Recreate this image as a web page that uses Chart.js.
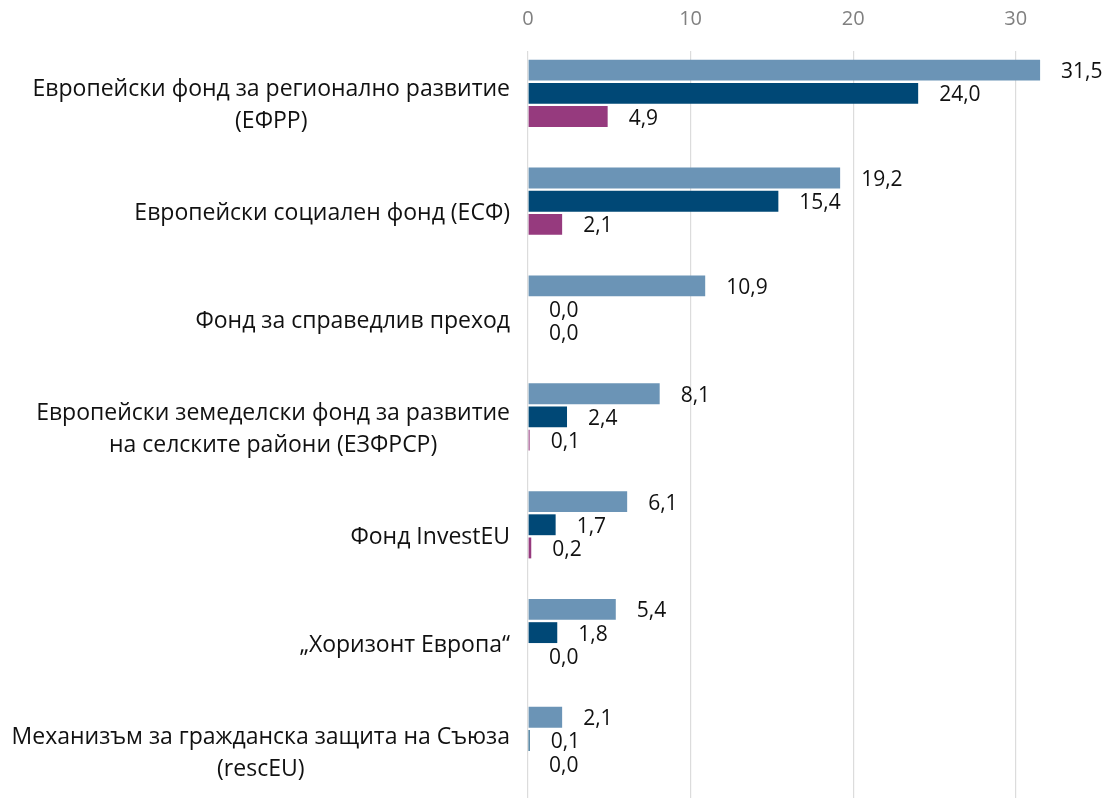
<!DOCTYPE html>
<html>
<head>
<meta charset="utf-8">
<script src="https://cdn.jsdelivr.net/npm/chart.js@4"></script>
<style>
  html, body { margin: 0; padding: 0; background: #fff; overflow: hidden; }
  #wrap { width: 1105px; height: 806px; }
</style>
</head>
<body>
<div id="wrap"><canvas id="fundsChart"></canvas></div>
<script>
// Categories (multi-line where the reference wraps)
const categories = [
  ['Европейски фонд за регионално развитие', '(ЕФРР)'],
  ['Европейски социален фонд (ЕСФ)'],
  ['Фонд за справедлив преход'],
  ['Европейски земеделски фонд за развитие', 'на селските райони (ЕЗФРСР)'],
  ['Фонд InvestEU'],
  ['„Хоризонт Европа“'],
  ['Механизъм за гражданска защита на Съюза', '(rescEU)']
];
// Series values
const seriesA = [31.5, 19.2, 10.9, 8.1, 6.1, 5.4, 2.1];
const seriesB = [24.0, 15.4, 0.0, 2.4, 1.7, 1.8, 0.1];
const seriesC = [4.9, 2.1, 0.0, 0.1, 0.2, 0.0, 0.0];
// empty fourth slot, the reference leaves room for it under each group
const seriesEmpty = [];
const tickValues = [0, 10, 20, 30];

const fmt = v => v.toFixed(1).replace('.', ',');

// value labels to the right of each bar
const valueLabels = {
  id: 'valueLabels',
  afterDatasetsDraw(chart) {
    const ctx = chart.ctx;
    ctx.save();
    ctx.font = '21px "Open Sans"';
    ctx.fillStyle = '#111';
    ctx.textAlign = 'left';
    ctx.textBaseline = 'middle';
    chart.data.datasets.forEach((ds, i) => {
      chart.getDatasetMeta(i).data.forEach((bar, j) => {
        const v = ds.data[j];
        if (v == null) return;
        ctx.fillText(fmt(v), bar.x + 21, bar.y + 2);
      });
    });
    ctx.restore();
  }
};

// category labels: block right aligned, lines centred on each other
const categoryLabels = {
  id: 'categoryLabels',
  afterDraw(chart) {
    const ctx = chart.ctx;
    const y = chart.scales.y;
    const right = chart.chartArea.left - 18;
    const lineH = 32;
    ctx.save();
    ctx.font = '23px "Open Sans"';
    ctx.fillStyle = '#111';
    ctx.textAlign = 'center';
    ctx.textBaseline = 'middle';
    categories.forEach((lines, i) => {
      const w = Math.max(...lines.map(l => ctx.measureText(l).width));
      const cx = right - w / 2;
      const cy = y.getPixelForValue(i) + 1;
      lines.forEach((l, k) => {
        ctx.fillText(l, cx, cy + (k - (lines.length - 1) / 2) * lineH);
      });
    });
    ctx.restore();
  }
};

const ctx = document.getElementById('fundsChart').getContext('2d');
const fundsChart = new Chart(ctx, {
  type: 'bar',
  data: {
    labels: categories.map(c => c.join(' ')),
    datasets: [
      { data: seriesA, backgroundColor: '#6b94b6' },
      { data: seriesB, backgroundColor: '#004876' },
      { data: seriesC, backgroundColor: '#963a7e' },
      { data: seriesEmpty, backgroundColor: 'rgba(0,0,0,0)' }
    ]
  },
  options: {
    indexAxis: 'y',
    responsive: true,
    maintainAspectRatio: false,
    animation: false,
    layout: { padding: { left: 528, right: 8, top: 0, bottom: 0 } },
    datasets: {
      bar: { categoryPercentage: 0.86, barPercentage: 0.9 }
    },
    plugins: {
      legend: { display: false },
      tooltip: { enabled: false }
    },
    scales: {
      x: {
        position: 'top',
        min: 0,
        max: 35,
        afterBuildTicks(scale) {
          scale.ticks = tickValues.map(v => ({ value: v }));
        },
        afterFit(scale) { scale.height = 51; },
        grid: { color: '#dcdcdc', lineWidth: 1.2, drawTicks: false },
        border: { display: false },
        ticks: {
          color: '#808080',
          font: { family: 'Open Sans', size: 20 },
          padding: 20
        }
      },
      y: {
        display: false
      }
    }
  },
  plugins: [valueLabels, categoryLabels]
});
</script>
</body>
</html>
